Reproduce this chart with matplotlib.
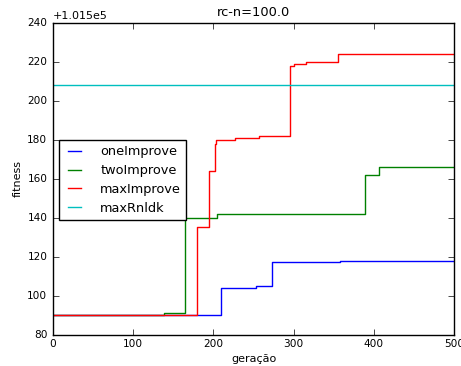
import matplotlib
matplotlib.use('Agg')
import matplotlib.pyplot as plt

plt.style.use('classic')

# pontos de mudanca (geracao, fitness) - degraus
base = 101500
one_gen = [0, 210, 253, 273, 358, 500]
one_fit = [90, 104, 105, 117, 118, 118]
two_gen = [0, 138, 164, 204, 389, 406, 500]
two_fit = [90, 91, 140, 142, 162, 166, 166]
max_gen = [0, 179, 194, 202, 203, 227, 257, 295, 301, 315, 355, 500]
max_fit = [90, 135, 164, 178, 180, 181, 182, 218, 219, 220, 224, 224]
rnd_gen = [0, 500]
rnd_fit = [208, 208]

fig = plt.figure(figsize=(4.61, 3.66), dpi=100)
ax = fig.add_axes([0.115, 0.086, 0.87, 0.851])

ax.plot(one_gen, [base + v for v in one_fit], color='b', drawstyle='steps-post', label='oneImprove')
ax.plot(two_gen, [base + v for v in two_fit], color='g', drawstyle='steps-post', label='twoImprove')
ax.plot(max_gen, [base + v for v in max_fit], color='r', drawstyle='steps-post', label='maxImprove')
ax.plot(rnd_gen, [base + v for v in rnd_fit], color='c', drawstyle='steps-post', label='maxRnldk')

ax.set_xlim(0, 500)
ax.set_ylim(base + 80, base + 240)
ax.ticklabel_format(axis='y', useOffset=base)
ax.tick_params(labelsize=7.6)
ax.tick_params(axis='x', pad=3)
ax.yaxis.get_offset_text().set_fontsize(8)
ax.set_xlabel('geração', fontsize=8, labelpad=4)
ax.set_ylabel('fitness', fontsize=8, labelpad=3)
ax.set_title('rc-n=100.0', fontsize=9.4)
ax.legend(loc='upper left', bbox_to_anchor=(0.015, 0.624), borderaxespad=0,
          fontsize=9.3, handlelength=1.6, handletextpad=1.2, labelspacing=0.45)

fig.savefig('out.png', dpi=100)
